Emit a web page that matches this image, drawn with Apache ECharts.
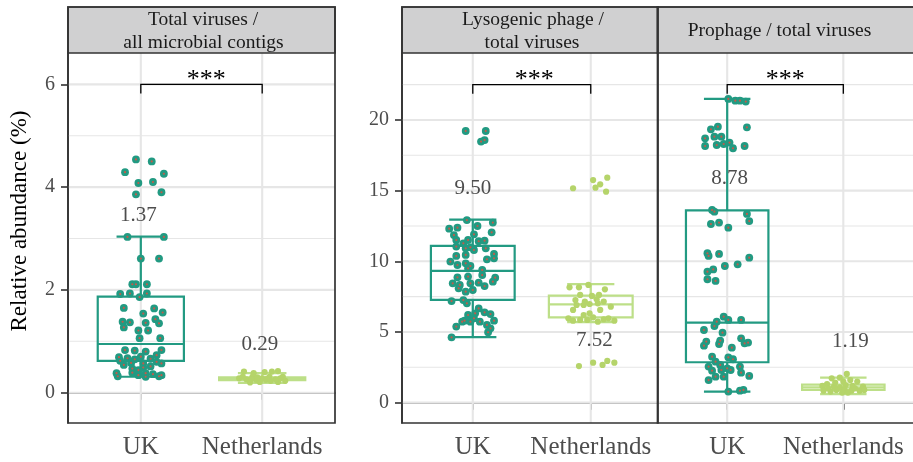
<!DOCTYPE html>
<html><head><meta charset="utf-8">
<script src="https://cdn.jsdelivr.net/npm/echarts@6/dist/echarts.min.js"></script>
<style>html,body{margin:0;padding:0;background:#fff}#c{width:913px;height:462px}</style>
</head><body><div id="c"></div>
<script>
// ---------- data ----------
const categories = ['UK', 'Netherlands'];
const stripTitles = [['Total viruses /', 'all microbial contigs'], ['Lysogenic phage /', 'total viruses'], ['Prophage / total viruses']];
const yTicksA = [0, 2, 4, 6];
const yMinorA = [1, 3, 5];
const yTicksB = [0, 5, 10, 15, 20];
const yMinorB = [2.5, 7.5, 12.5, 17.5, 22.5];

// box stats: [lower whisker, Q1, median, Q3, upper whisker]
const box1UK = [0.31, 0.617, 0.947, 1.868, 3.035];
const box1NL = [0.19, 0.245, 0.27, 0.30, 0.38];
const box2UK = [4.63, 7.27, 9.32, 11.09, 12.95];
const box2NL = [5.70, 6.04, 6.96, 7.57, 8.38];
const box3UK = [0.78, 2.86, 5.66, 13.61, 21.49];
const box3NL = [0.60, 0.90, 1.08, 1.28, 1.77];

// jittered samples: [horizontal jitter (category units), value]
const pts1UK = [[-0.04,4.54],[0.09,4.50],[-0.13,4.29],[0.19,4.26],[-0.02,4.08],[0.10,4.10],[-0.04,3.86],[0.17,3.90],[-0.11,3.03],[0.19,3.03],[0.0,2.61],[0.15,2.61],[-0.07,2.11],[-0.04,2.11],[0.05,2.11],[-0.17,1.92],[-0.09,1.93],[-0.01,1.86],[0.05,1.93],[-0.14,1.65],[0.11,1.64],[0.02,1.54],[0.18,1.56],[-0.15,1.38],[-0.09,1.37],[0.04,1.36],[0.12,1.43],[0.15,1.35],[-0.14,1.27],[-0.02,1.21],[0.06,1.21],[-0.01,1.06],[0.16,1.06],[-0.13,0.83],[-0.05,0.82],[0.04,0.80],[0.17,0.83],[-0.18,0.69],[-0.11,0.67],[-0.05,0.65],[0.0,0.70],[0.08,0.66],[0.13,0.73],[-0.17,0.62],[-0.08,0.58],[0.02,0.57],[0.17,0.57],[-0.07,0.47],[0.02,0.49],[-0.20,0.38],[-0.19,0.32],[-0.07,0.39],[-0.02,0.34],[0.04,0.38],[0.10,0.36],[0.15,0.32],[0.17,0.34],[0.04,0.31],[-0.02,0.44],[-0.14,0.54],[0.08,0.51],[0.13,0.60]];
const pts1NL = [[-0.15,0.41],[0.02,0.40],[0.08,0.41],[0.13,0.42],[-0.19,0.28],[-0.10,0.20],[-0.05,0.25],[0.03,0.25],[0.13,0.21],[0.19,0.23],[-0.08,0.31],[0.0,0.28],[0.06,0.31],[0.15,0.28],[-0.13,0.26],[0.11,0.26],[-0.02,0.21],[0.04,0.27],[0.17,0.31],[-0.04,0.30],[-0.16,0.31],[-0.07,0.38],[0.07,0.23],[-0.09,0.26]];
const pts2UK = [[-0.06,19.22],[0.11,19.22],[0.07,18.47],[0.10,18.58],[-0.05,12.92],[0.04,12.50],[0.17,12.74],[-0.20,12.31],[-0.13,12.38],[-0.16,11.86],[0.01,11.91],[0.16,12.05],[-0.14,11.51],[-0.08,11.27],[-0.04,11.51],[0.05,11.42],[0.10,11.46],[-0.14,11.04],[-0.06,10.92],[-0.02,10.99],[0.11,10.92],[0.01,10.80],[-0.14,10.38],[-0.06,10.45],[0.18,10.52],[-0.19,9.98],[-0.13,9.74],[-0.06,9.86],[-0.02,9.67],[0.12,10.14],[0.18,10.21],[-0.04,9.50],[0.08,9.39],[-0.13,8.87],[-0.04,8.92],[0.08,9.03],[0.19,8.84],[0.17,8.56],[-0.17,8.44],[-0.11,8.33],[-0.02,8.44],[0.05,8.49],[0.10,8.25],[-0.12,8.09],[-0.06,7.85],[0.0,7.97],[-0.08,7.26],[-0.18,7.19],[-0.05,7.03],[0.05,6.67],[-0.04,6.20],[0.10,6.39],[0.15,6.27],[0.01,5.97],[0.06,5.73],[0.18,5.80],[-0.02,5.73],[-0.09,5.73],[-0.14,5.38],[0.12,5.50],[0.15,5.26],[0.13,4.98],[-0.18,4.62],[-0.07,5.80],[0.02,6.32]];
const pts2NL = [[-0.15,15.17],[0.02,15.75],[0.14,15.92],[0.04,15.21],[0.08,15.45],[0.13,14.93],[-0.18,8.16],[-0.10,8.16],[-0.02,8.33],[0.12,8.02],[-0.09,7.62],[0.01,7.55],[0.07,7.62],[-0.13,7.26],[-0.05,7.15],[0.05,7.31],[0.11,7.15],[-0.12,6.91],[-0.06,6.91],[-0.01,6.98],[0.06,7.03],[0.17,6.79],[-0.15,6.56],[-0.06,6.20],[-0.01,6.32],[0.08,6.56],[-0.09,5.85],[-0.19,5.97],[-0.15,5.80],[-0.03,5.85],[0.06,5.73],[0.11,5.90],[0.20,5.80],[0.02,6.04],[0.15,5.97],[-0.10,2.59],[0.02,2.83],[0.10,2.67],[0.14,2.95],[0.20,2.83]];
const pts3UK = [[0.01,21.49],[0.07,21.37],[0.11,21.37],[0.16,21.30],[-0.14,19.34],[-0.08,19.53],[0.17,19.48],[-0.19,18.70],[-0.11,18.82],[-0.05,18.82],[-0.19,18.16],[-0.09,18.23],[-0.03,18.30],[0.02,18.40],[0.05,18.00],[0.15,18.16],[-0.13,13.63],[-0.11,13.51],[0.17,13.35],[0.19,12.85],[-0.14,12.64],[-0.07,12.74],[0.01,12.38],[-0.17,10.57],[-0.16,10.38],[-0.07,10.52],[0.19,10.26],[0.09,9.79],[-0.02,9.67],[-0.12,9.43],[-0.17,9.27],[-0.17,8.73],[-0.10,8.61],[-0.03,6.08],[-0.09,5.73],[0.01,5.85],[0.12,5.85],[-0.11,5.42],[-0.20,5.14],[-0.04,4.95],[-0.18,4.32],[-0.06,4.39],[0.12,4.55],[0.18,4.25],[-0.07,4.15],[0.04,3.89],[0.15,4.20],[-0.20,4.03],[-0.13,3.25],[0.01,3.21],[0.05,3.07],[-0.10,2.90],[-0.16,2.55],[-0.06,2.67],[0.0,2.43],[0.11,2.55],[0.19,1.89],[-0.16,1.60],[-0.10,1.84],[-0.03,1.84],[0.12,2.12],[0.03,2.31],[0.01,0.78],[0.11,0.85],[0.14,0.90],[-0.13,2.26],[-0.05,2.31]];
const pts3NL = [[0.03,2.03],[-0.10,1.72],[-0.03,1.77],[0.06,1.60],[0.12,1.49],[-0.18,1.18],[-0.14,1.32],[-0.08,1.13],[-0.03,1.08],[0.02,1.25],[0.08,1.18],[0.17,1.13],[-0.17,0.85],[-0.11,0.78],[-0.06,0.90],[0.01,0.94],[0.07,0.85],[0.14,0.85],[-0.01,0.71],[-0.13,1.01],[0.10,1.01],[0.04,0.71],[0.18,0.90],[-0.07,1.42],[0.0,1.49]];

// mean labels and their anchor (x in category units, y in data units)
const meanText = [['1.37', '0.29'], ['9.50', '7.52'], ['8.78', '1.19']];
const meanAnchor = [[[0.98, 3.44], [1.98, 0.93]], [[1.0, 15.17], [2.03, 4.39]], [[1.02, 15.87], [2.06, 4.32]]];
const sigText = '***';
const bracketY = [6, 22.5, 22.5];
const bracketTip = [5.82, 21.86, 21.86];
const sigX = [1.54, 1.52, 1.50];

// ---------- styles ----------
const FONT = 'Liberation Serif';
const C_UK = '#229a82', C_NL = '#b5d46a', C_NLBOX = '#bddf88', C_DOT = '#ee4a3c';
const GRIDC = '#e6e6e6';

const panels = [
  {box: [box1UK, box1NL], pts: [pts1UK, pts1NL], ticks: yTicksA, minor: yMinorA, ymin: -0.59, ymax: 6.61, xmax: 2.6},
  {box: [box2UK, box2NL], pts: [pts2UK, pts2NL], ticks: yTicksB, minor: yMinorB, ymin: -1.44, ymax: 24.74, xmax: 2.57},
  {box: [box3UK, box3NL], pts: [pts3UK, pts3NL], ticks: yTicksB, minor: yMinorB, ymin: -1.44, ymax: 24.74, xmax: 2.6}
];
const gridBoxes = [
  {left: 68, top: 53, width: 267, height: 370},
  {left: 402, top: 53, width: 256, height: 370},
  {left: 657.5, top: 53, width: 259.6, height: 370}
];

const grid = gridBoxes.map(g => Object.assign({containLabel: false}, g));
const xAxis = panels.map((p, i) => ({
  type: 'value', gridIndex: i, min: 0.4, max: p.xmax,
  axisLine: {show: true, lineStyle: {color: '#333', width: 1.6}},
  axisTick: {show: true, length: 7, customValues: [1, 2], lineStyle: {color: '#333', width: 1.6}},
  axisLabel: {show: true, customValues: [1, 2], formatter: v => categories[Math.round(v) - 1], fontFamily: FONT, fontSize: 25, color: '#4d4d4d', margin: 12},
  splitLine: {show: false}
}));
const yAxis = panels.map((p, i) => ({
  type: 'value', gridIndex: i, min: p.ymin, max: p.ymax,
  axisLine: {show: i < 2, lineStyle: {color: '#333', width: 1.6}},
  axisTick: {show: i < 2, length: 7, customValues: p.ticks, lineStyle: {color: '#333', width: 1.6}},
  axisLabel: {show: i < 2, customValues: p.ticks, fontFamily: FONT, fontSize: 20, color: '#4d4d4d', margin: 13},
  splitLine: {show: false}
}));

const series = [];
panels.forEach((p, i) => {
  // grid lines
  const gl = [];
  p.ticks.forEach(v => gl.push([1, v, 2.1, 0]));
  p.minor.forEach(v => gl.push([1, v, 1.1, 0]));
  [1, 2].forEach(v => gl.push([v, 0, 2.1, 1]));
  series.push({
    type: 'custom', xAxisIndex: i, yAxisIndex: i, z: 1, silent: true, data: gl,
    renderItem: (params, api) => {
      const cs = params.coordSys;
      if (api.value(3) === 0) {
        const y = api.coord([1, api.value(1)])[1];
        return {type: 'line', shape: {x1: cs.x, y1: y, x2: cs.x + cs.width, y2: y}, style: {stroke: GRIDC, lineWidth: api.value(2)}};
      }
      const x = api.coord([api.value(0), 0])[0];
      return {type: 'line', shape: {x1: x, y1: cs.y, x2: x, y2: cs.y + cs.height}, style: {stroke: GRIDC, lineWidth: api.value(2)}};
    }
  });
  // boxes
  series.push({
    type: 'custom', xAxisIndex: i, yAxisIndex: i, z: 2, silent: true,
    encode: {x: 0, y: [1, 2, 3, 4, 5]},
    data: [[1].concat(p.box[0]), [2].concat(p.box[1])],
    renderItem: (params, api) => {
      const x = api.value(0), lo = api.value(1), q1 = api.value(2), md = api.value(3), q3 = api.value(4), hi = api.value(5);
      const col = params.dataIndex === 0 ? C_UK : C_NLBOX;
      const hw = 0.355, cw = 0.2;
      const tl = api.coord([x - hw, q3]), br = api.coord([x + hw, q1]);
      const cx = api.coord([x, 0])[0];
      const yLo = api.coord([x, lo])[1], yHi = api.coord([x, hi])[1], yMd = api.coord([x, md])[1];
      const cl = api.coord([x - cw, 0])[0], cr = api.coord([x + cw, 0])[0];
      const st = {stroke: col, lineWidth: 2.2, fill: 'none'};
      return {type: 'group', children: [
        {type: 'line', shape: {x1: cx, y1: yHi, x2: cx, y2: tl[1]}, style: st},
        {type: 'line', shape: {x1: cx, y1: br[1], x2: cx, y2: yLo}, style: st},
        {type: 'line', shape: {x1: cl, y1: yHi, x2: cr, y2: yHi}, style: st},
        {type: 'line', shape: {x1: cl, y1: yLo, x2: cr, y2: yLo}, style: st},
        {type: 'rect', shape: {x: tl[0], y: tl[1], width: br[0] - tl[0], height: br[1] - tl[1]}, style: st},
        {type: 'line', shape: {x1: tl[0], y1: yMd, x2: br[0], y2: yMd}, style: st}
      ]};
    }
  });
  const ukData = p.pts[0].map(d => [1 + d[0], d[1]]);
  const nlData = p.pts[1].map(d => [2 + d[0], d[1]]);
  series.push({type: 'scatter', xAxisIndex: i, yAxisIndex: i, z: 3, silent: true, symbolSize: 7.8, itemStyle: {color: C_UK, opacity: 1}, data: ukData});
  series.push({type: 'scatter', xAxisIndex: i, yAxisIndex: i, z: 3, silent: true, symbolSize: 6.2, itemStyle: {color: C_NL, opacity: 1}, data: nlData});
  series.push({type: 'scatter', xAxisIndex: i, yAxisIndex: i, z: 4, silent: true, symbolSize: 2.2, itemStyle: {color: C_DOT}, data: ukData});
  // annotations
  series.push({
    type: 'custom', xAxisIndex: i, yAxisIndex: i, z: 5, silent: true,
    data: [[1, bracketY[i]]],
    renderItem: (params, api) => {
      const a = api.coord([1, bracketTip[i]]), b = api.coord([1, bracketY[i]]);
      const c = api.coord([2, bracketY[i]]), d = api.coord([2, bracketTip[i]]);
      const s = api.coord([sigX[i], bracketY[i]]);
      const kids = [
        {type: 'polyline', shape: {points: [a, b, c, d]}, style: {stroke: '#000', lineWidth: 1.3, fill: 'none'}},
        {type: 'text', x: s[0], y: s[1] - 4, style: {text: sigText, fontFamily: FONT, fontSize: 26, fill: '#000', align: 'center', verticalAlign: 'middle'}}
      ];
      meanAnchor[i].forEach((m, k) => {
        const q = api.coord(m);
        kids.push({type: 'text', x: q[0], y: q[1], style: {text: meanText[i][k], fontFamily: FONT, fontSize: 21, fill: '#4d4d4d', align: 'center', verticalAlign: 'middle'}});
      });
      return {type: 'group', children: kids};
    }
  });
});

// strips, borders, titles
const graphic = [];
const stripTextPos = [[[203, 20], [203.5, 43]], [[533, 20], [532, 43]], [[779.5, 31]]];
gridBoxes.forEach((g, i) => {
  graphic.push({type: 'rect', z: 99, shape: {x: g.left, y: 7, width: g.width, height: g.top - 7}, style: {fill: '#d0d0d1', stroke: '#333', lineWidth: 1.7}});
  graphic.push({type: 'rect', z: 100, shape: {x: g.left, y: 7, width: g.width, height: g.top + g.height - 7}, style: {fill: 'none', stroke: '#333', lineWidth: 1.7}});
  stripTitles[i].forEach((t, k) => {
    const pos = stripTextPos[i][k];
    graphic.push({type: 'text', z: 101, x: pos[0], y: pos[1], style: {text: t, fontFamily: FONT, fontSize: 19.5, fill: '#1a1a1a', align: 'center', verticalAlign: 'middle'}});
  });
});
graphic.push({type: 'text', z: 101, x: 20, y: 221, rotation: Math.PI / 2, style: {text: 'Relative abundance (%)', fontFamily: FONT, fontSize: 23, fill: '#000', align: 'center', verticalAlign: 'middle'}});

const chart = echarts.init(document.getElementById('c'), null, {renderer: 'canvas'});
chart.setOption({animation: false, backgroundColor: '#fff', grid, xAxis, yAxis, series, graphic});
</script></body></html>
